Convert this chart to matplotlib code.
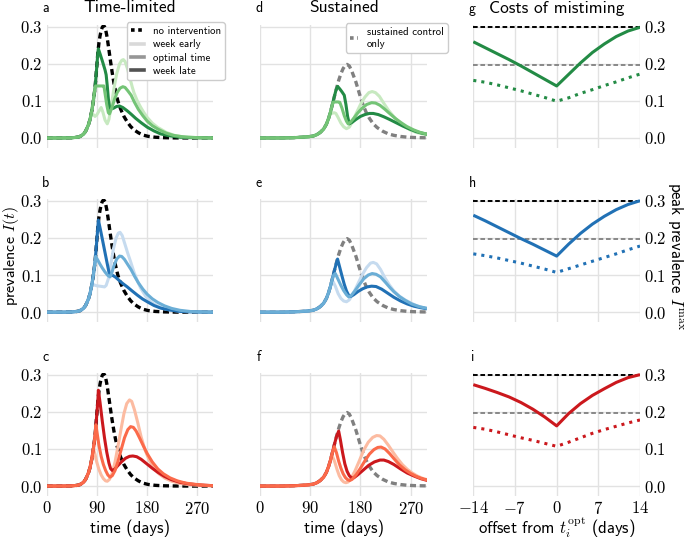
import matplotlib
matplotlib.use("Agg")
import matplotlib.pyplot as plt
from matplotlib.lines import Line2D
from matplotlib.ticker import FuncFormatter, FixedLocator

# ---------------- data (day, prevalence) ----------------
no_intervention = [(0, 0), (30, 0), (45, 0.0005), (55, 0.002), (60, 0.004), (66, 0.01), (70, 0.018),
                   (75, 0.035), (78, 0.05), (81, 0.072), (84, 0.1), (87, 0.135), (90, 0.19), (92, 0.228),
                   (94, 0.256), (96, 0.275), (98, 0.289), (100, 0.298), (102, 0.302), (104, 0.3),
                   (106, 0.292), (108, 0.277), (110, 0.258), (112, 0.237), (115, 0.205), (118, 0.175),
                   (121, 0.148), (124, 0.125), (128, 0.1), (133, 0.078), (139, 0.058), (145, 0.043),
                   (151, 0.031), (157, 0.022), (165, 0.014), (173, 0.008), (182, 0.0045), (195, 0.002),
                   (210, 0.0008), (230, 0.0002), (260, 0), (300, 0)]

sustained_only = [(0, 0), (40, 0), (60, 0.0008), (75, 0.002), (85, 0.003), (95, 0.005), (102, 0.009),
                  (108, 0.015), (114, 0.024), (119, 0.037), (123, 0.053), (126, 0.068), (129, 0.086),
                  (133, 0.11), (137, 0.133), (141, 0.155), (145, 0.173), (149, 0.187), (153, 0.196),
                  (156, 0.198), (160, 0.194), (164, 0.182), (168, 0.166), (172, 0.15), (176, 0.13),
                  (180, 0.11), (185, 0.088), (190, 0.07), (196, 0.053), (203, 0.038), (210, 0.028),
                  (220, 0.018), (230, 0.011), (240, 0.007), (252, 0.004), (265, 0.002), (280, 0.001),
                  (300, 0.0005)]

# time-limited, green (a)
a_early = [(0, 0), (30, 0), (45, 0.0005), (55, 0.002), (60, 0.004), (66, 0.01), (70, 0.018), (75, 0.035),
           (78, 0.05), (81, 0.065), (84, 0.063), (87, 0.058), (90, 0.062), (94, 0.072), (98, 0.082),
           (101, 0.07), (105, 0.048), (109, 0.038), (112, 0.05), (116, 0.085), (121, 0.133), (126, 0.173),
           (131, 0.199), (135, 0.209), (138, 0.211), (141, 0.206), (145, 0.188), (150, 0.16), (154, 0.137),
           (157, 0.122), (163, 0.1), (169, 0.083), (175, 0.068), (181, 0.055), (190, 0.04), (200, 0.028),
           (205, 0.024), (215, 0.015), (230, 0.007), (250, 0.002), (275, 0.0005), (300, 0)]
a_opt = [(0, 0), (30, 0), (45, 0.0005), (55, 0.002), (60, 0.004), (66, 0.01), (70, 0.018), (75, 0.035),
         (78, 0.05), (81, 0.072), (84, 0.1), (86, 0.125), (88, 0.14), (92, 0.14), (96, 0.14), (100, 0.14),
         (103, 0.14), (105, 0.12), (108, 0.09), (111, 0.068), (113, 0.065), (117, 0.08), (122, 0.104),
         (127, 0.123), (132, 0.134), (137, 0.138), (141, 0.136), (146, 0.127), (152, 0.115), (158, 0.096),
         (165, 0.077), (173, 0.06), (181, 0.045), (190, 0.033), (200, 0.024), (205, 0.02), (215, 0.013),
         (228, 0.007), (245, 0.003), (270, 0.001), (300, 0)]
a_late = [(0, 0), (30, 0), (45, 0.0005), (55, 0.002), (60, 0.004), (66, 0.01), (70, 0.018), (75, 0.035),
          (78, 0.05), (81, 0.072), (84, 0.1), (87, 0.135), (90, 0.19), (92, 0.228), (93, 0.24), (97, 0.222),
          (101, 0.203), (105, 0.183), (107, 0.17), (109, 0.14), (111, 0.105), (113, 0.083), (115, 0.078),
          (120, 0.08), (126, 0.085), (131, 0.086), (137, 0.082), (145, 0.073), (152, 0.064), (160, 0.053),
          (170, 0.041), (181, 0.029), (193, 0.019), (205, 0.011), (220, 0.006), (240, 0.002), (265, 0.0006),
          (300, 0)]

# time-limited, blue (b)
b_early = [(0, 0), (30, 0), (45, 0.0005), (55, 0.002), (60, 0.004), (66, 0.01), (70, 0.018), (75, 0.035),
           (78, 0.05), (81, 0.072), (83, 0.075), (86, 0.073), (90, 0.071), (95, 0.07), (100, 0.069),
           (104, 0.068), (107, 0.072), (111, 0.09), (115, 0.125), (120, 0.17), (125, 0.2), (129, 0.213),
           (132, 0.215), (136, 0.206), (141, 0.182), (146, 0.158), (151, 0.136), (157, 0.108), (163, 0.085),
           (169, 0.065), (178, 0.043), (187, 0.028), (197, 0.018), (210, 0.01), (225, 0.005), (245, 0.002),
           (270, 0.0005), (300, 0)]
b_opt = [(0, 0), (30, 0), (45, 0.0005), (55, 0.002), (60, 0.004), (66, 0.01), (70, 0.018), (75, 0.035),
         (78, 0.05), (81, 0.072), (84, 0.1), (87, 0.135), (88, 0.15), (92, 0.14), (96, 0.129), (100, 0.119),
         (105, 0.108), (110, 0.099), (114, 0.095), (117, 0.105), (121, 0.125), (126, 0.143), (131, 0.151),
         (135, 0.15), (140, 0.142), (146, 0.128), (152, 0.114), (158, 0.097), (165, 0.079), (173, 0.062),
         (181, 0.048), (190, 0.036), (200, 0.026), (212, 0.017), (225, 0.01), (240, 0.005), (260, 0.0015),
         (285, 0.0004), (300, 0)]
b_late = [(0, 0), (30, 0), (45, 0.0005), (55, 0.002), (60, 0.004), (66, 0.01), (70, 0.018), (75, 0.035),
          (78, 0.05), (81, 0.072), (84, 0.1), (87, 0.135), (90, 0.19), (92, 0.228), (93, 0.248), (97, 0.22),
          (101, 0.19), (105, 0.16), (109, 0.13), (112, 0.108), (114, 0.1), (117, 0.1), (120, 0.098),
          (124, 0.094), (130, 0.086), (137, 0.077), (145, 0.068), (153, 0.058), (163, 0.046), (172, 0.036),
          (181, 0.028), (193, 0.018), (205, 0.011), (220, 0.006), (240, 0.002), (265, 0.0006), (300, 0)]

# time-limited, red (c)
c_early = [(0, 0), (30, 0), (45, 0.0005), (55, 0.002), (60, 0.004), (66, 0.01), (70, 0.018), (75, 0.035),
           (78, 0.05), (81, 0.072), (84, 0.1), (87, 0.085), (90, 0.065), (94, 0.045), (98, 0.03), (102, 0.02),
           (106, 0.014), (109, 0.013), (113, 0.018), (118, 0.035), (123, 0.065), (128, 0.105), (134, 0.155),
           (139, 0.195), (144, 0.222), (149, 0.232), (153, 0.228), (158, 0.205), (164, 0.17), (170, 0.132),
           (177, 0.097), (185, 0.068), (193, 0.048), (202, 0.033), (213, 0.021), (225, 0.013), (240, 0.007),
           (258, 0.0035), (280, 0.0015), (300, 0.0005)]
c_opt = [(0, 0), (30, 0), (45, 0.0005), (55, 0.002), (60, 0.004), (66, 0.01), (70, 0.018), (75, 0.035),
         (78, 0.05), (81, 0.072), (84, 0.1), (87, 0.135), (88.5, 0.165), (91, 0.14), (94, 0.11), (98, 0.08),
         (102, 0.058), (106, 0.042), (110, 0.03), (114, 0.024), (118, 0.028), (123, 0.042), (128, 0.065),
         (134, 0.098), (140, 0.13), (146, 0.152), (151, 0.16), (156, 0.158), (161, 0.148), (167, 0.13),
         (174, 0.108), (181, 0.087), (190, 0.065), (200, 0.046), (210, 0.033), (222, 0.022), (235, 0.014),
         (250, 0.008), (265, 0.005), (285, 0.002), (300, 0.001)]
c_late = [(0, 0), (30, 0), (45, 0.0005), (55, 0.002), (60, 0.004), (66, 0.01), (70, 0.018), (75, 0.035),
          (78, 0.05), (81, 0.072), (84, 0.1), (87, 0.135), (90, 0.19), (92, 0.228), (93, 0.258), (96, 0.225),
          (100, 0.175), (104, 0.13), (108, 0.092), (112, 0.062), (115, 0.047), (118, 0.042), (122, 0.045),
          (128, 0.055), (135, 0.066), (142, 0.075), (149, 0.08), (155, 0.081), (162, 0.079), (170, 0.072),
          (180, 0.06), (190, 0.048), (200, 0.037), (212, 0.026), (225, 0.017), (240, 0.01), (255, 0.006),
          (275, 0.003), (300, 0.001)]

# sustained, green (d)
d_early = [(0, 0), (40, 0), (60, 0.0008), (75, 0.002), (85, 0.003), (95, 0.005), (102, 0.009), (108, 0.015),
           (114, 0.024), (119, 0.037), (123, 0.053), (125, 0.064), (128, 0.066), (133, 0.068), (136, 0.066),
           (140, 0.055), (145, 0.04), (150, 0.03), (155, 0.025), (160, 0.029), (166, 0.045), (172, 0.065),
           (180, 0.09), (188, 0.11), (195, 0.122), (201, 0.125), (207, 0.122), (214, 0.112), (222, 0.093),
           (230, 0.075), (240, 0.057), (250, 0.042), (260, 0.03), (270, 0.021), (280, 0.015), (290, 0.011),
           (300, 0.008)]
d_opt = [(0, 0), (40, 0), (60, 0.0008), (75, 0.002), (85, 0.003), (95, 0.005), (102, 0.009), (108, 0.015),
         (114, 0.024), (119, 0.037), (123, 0.053), (126, 0.068), (129, 0.086), (131, 0.096), (135, 0.097),
         (140, 0.097), (143, 0.096), (147, 0.08), (151, 0.06), (155, 0.045), (158, 0.038), (162, 0.042),
         (168, 0.053), (175, 0.067), (183, 0.08), (191, 0.09), (200, 0.095), (207, 0.094), (215, 0.088),
         (224, 0.077), (233, 0.065), (243, 0.052), (253, 0.041), (263, 0.031), (275, 0.022), (287, 0.015),
         (300, 0.01)]
d_late = [(0, 0), (40, 0), (60, 0.0008), (75, 0.002), (85, 0.003), (95, 0.005), (102, 0.009), (108, 0.015),
          (114, 0.024), (119, 0.037), (123, 0.053), (126, 0.068), (129, 0.086), (133, 0.11), (136, 0.128),
          (139, 0.139), (143, 0.132), (147, 0.124), (151, 0.115), (154, 0.09), (157, 0.058), (160, 0.038),
          (165, 0.042), (172, 0.05), (180, 0.058), (188, 0.063), (196, 0.066), (203, 0.066), (212, 0.063),
          (222, 0.057), (232, 0.05), (244, 0.041), (256, 0.032), (268, 0.024), (280, 0.017), (290, 0.013),
          (300, 0.01)]

# sustained, blue (e)
e_early = [(0, 0), (40, 0), (60, 0.0008), (75, 0.002), (85, 0.003), (95, 0.005), (102, 0.009), (108, 0.015),
           (114, 0.024), (119, 0.037), (123, 0.053), (126, 0.068), (129, 0.08), (131, 0.082), (135, 0.07),
           (140, 0.05), (145, 0.037), (150, 0.03), (155, 0.028), (160, 0.033), (167, 0.05), (175, 0.075),
           (183, 0.1), (191, 0.12), (198, 0.132), (203, 0.134), (209, 0.13), (216, 0.115), (224, 0.092),
           (232, 0.073), (240, 0.057), (250, 0.043), (260, 0.033), (270, 0.025), (280, 0.018), (290, 0.013),
           (300, 0.01)]
e_opt = [(0, 0), (40, 0), (60, 0.0008), (75, 0.002), (85, 0.003), (95, 0.005), (102, 0.009), (108, 0.015),
         (114, 0.024), (119, 0.037), (123, 0.053), (126, 0.068), (129, 0.086), (132, 0.1), (135, 0.104),
         (140, 0.088), (145, 0.072), (150, 0.058), (155, 0.047), (159, 0.041), (163, 0.044), (170, 0.057),
         (178, 0.074), (186, 0.09), (194, 0.1), (201, 0.104), (208, 0.102), (216, 0.095), (225, 0.08),
         (233, 0.066), (240, 0.055), (250, 0.042), (260, 0.032), (272, 0.022), (285, 0.015), (300, 0.01)]
e_late = [(0, 0), (40, 0), (60, 0.0008), (75, 0.002), (85, 0.003), (95, 0.005), (102, 0.009), (108, 0.015),
          (114, 0.024), (119, 0.037), (123, 0.053), (126, 0.068), (129, 0.086), (133, 0.11), (137, 0.133),
          (139, 0.143), (143, 0.12), (147, 0.097), (151, 0.075), (155, 0.057), (159, 0.045), (162, 0.042),
          (168, 0.047), (176, 0.056), (184, 0.063), (192, 0.068), (200, 0.07), (208, 0.069), (218, 0.062),
          (228, 0.052), (240, 0.04), (252, 0.03), (264, 0.022), (276, 0.016), (288, 0.012), (300, 0.009)]

# sustained, red (f)
f_early = [(0, 0), (40, 0), (60, 0.0008), (75, 0.002), (85, 0.003), (95, 0.005), (102, 0.009), (108, 0.015),
           (114, 0.024), (119, 0.037), (123, 0.053), (126, 0.068), (128, 0.076), (130, 0.08), (134, 0.065),
           (138, 0.045), (142, 0.028), (146, 0.017), (150, 0.011), (154, 0.009), (158, 0.011), (163, 0.02),
           (170, 0.04), (178, 0.068), (186, 0.097), (194, 0.118), (202, 0.131), (209, 0.136), (215, 0.135),
           (222, 0.126), (230, 0.11), (238, 0.092), (246, 0.075), (255, 0.058), (264, 0.045), (273, 0.035),
           (282, 0.027), (291, 0.021), (300, 0.017)]
f_opt = [(0, 0), (40, 0), (60, 0.0008), (75, 0.002), (85, 0.003), (95, 0.005), (102, 0.009), (108, 0.015),
         (114, 0.024), (119, 0.037), (123, 0.053), (126, 0.068), (129, 0.086), (133, 0.106), (137, 0.09),
         (141, 0.067), (145, 0.048), (149, 0.033), (153, 0.023), (157, 0.017), (161, 0.015), (165, 0.018),
         (172, 0.03), (180, 0.048), (188, 0.068), (196, 0.086), (204, 0.098), (211, 0.104), (217, 0.105),
         (224, 0.1), (232, 0.088), (240, 0.074), (250, 0.057), (260, 0.044), (270, 0.034), (280, 0.026),
         (290, 0.02), (300, 0.016)]
f_late = [(0, 0), (40, 0), (60, 0.0008), (75, 0.002), (85, 0.003), (95, 0.005), (102, 0.009), (108, 0.015),
          (114, 0.024), (119, 0.037), (123, 0.053), (126, 0.068), (129, 0.086), (133, 0.11), (137, 0.133),
          (141, 0.148), (144, 0.125), (148, 0.09), (152, 0.06), (156, 0.04), (160, 0.028), (164, 0.022),
          (168, 0.022), (175, 0.03), (185, 0.043), (195, 0.056), (205, 0.065), (215, 0.07), (222, 0.07),
          (230, 0.066), (240, 0.058), (252, 0.046), (264, 0.035), (276, 0.027), (288, 0.02), (300, 0.015)]

# costs of mistiming (g, h, i)
offsets = [-14, -12, -10, -8, -6, -4, -2, 0, 2, 4, 6, 8, 10, 12, 14]
peak_no_intervention = 0.30
peak_sustained_only = 0.197
g_limited = [0.259, 0.243, 0.227, 0.211, 0.194, 0.176, 0.158, 0.14, 0.171, 0.202, 0.23, 0.253, 0.273, 0.288, 0.298]
g_sustained = [0.155, 0.15, 0.143, 0.135, 0.127, 0.118, 0.109, 0.099, 0.108, 0.12, 0.13, 0.141, 0.151, 0.162, 0.172]
h_limited = [0.261, 0.246, 0.23, 0.214, 0.198, 0.183, 0.167, 0.151, 0.183, 0.212, 0.237, 0.258, 0.276, 0.29, 0.3]
h_sustained = [0.157, 0.152, 0.146, 0.139, 0.132, 0.124, 0.116, 0.107, 0.117, 0.127, 0.137, 0.147, 0.157, 0.168, 0.178]
i_limited = [0.273, 0.263, 0.252, 0.24, 0.225, 0.207, 0.186, 0.162, 0.195, 0.222, 0.244, 0.262, 0.279, 0.292, 0.3]
i_sustained = [0.158, 0.153, 0.146, 0.138, 0.13, 0.123, 0.115, 0.107, 0.118, 0.13, 0.142, 0.152, 0.161, 0.17, 0.178]

time_ticks = [0, 90, 180, 270]
offset_ticks = [-14, -7, 0, 7, 14]
prev_ticks = [0.0, 0.1, 0.2, 0.3]
legend_labels = ["no intervention", "week early", "optimal time", "week late"]

# ---------------- style ----------------
plt.rcParams["font.family"] = ["cmss10", "DejaVu Sans"]
plt.rcParams["mathtext.fontset"] = "cm"
plt.rcParams["axes.unicode_minus"] = True

greens = ["#c7e9c0", "#74c476", "#238b45"]
blues = ["#c6dbef", "#6baed6", "#2171b5"]
reds = ["#fcbba1", "#fb6a4a", "#cb181d"]
grid_col = "#e2e2e2"
LW = 2.2
DASH = (1.8, 1.1)

W, H = 685, 542
fig = plt.figure(figsize=(6.85, 5.42), dpi=100)

col_left = [46.7, 260.0, 473.3]
col_w = [166.7, 167.4, 166.7]
row_top = [24.5, 198.7, 372.6]
row_h = 123.6
YLIM = (-0.0273, 0.3055)


def unz(pairs):
    return [p[0] for p in pairs], [p[1] for p in pairs]


def make_ax(r, c):
    ax = fig.add_axes([col_left[c] / W, 1 - (row_top[r] + row_h) / H, col_w[c] / W, row_h / H])
    for sp in ax.spines.values():
        sp.set_visible(False)
    ax.grid(True, color=grid_col, lw=1.0)
    ax.set_axisbelow(True)
    ax.tick_params(length=0, labelsize=12, pad=3)
    ax.set_ylim(*YLIM)
    ax.yaxis.set_major_locator(FixedLocator(prev_ticks))
    ax.yaxis.set_major_formatter(FuncFormatter(lambda v, p: "$%.1f$" % v))
    if c < 2:
        ax.set_xlim(0, 300)
        ax.xaxis.set_major_locator(FixedLocator(time_ticks))
    else:
        ax.set_xlim(-14, 14)
        ax.xaxis.set_major_locator(FixedLocator(offset_ticks))
    ax.xaxis.set_major_formatter(FuncFormatter(lambda v, p: "$%d$" % v))
    if r < 2:
        ax.tick_params(labelbottom=False)
    if c == 1:
        ax.tick_params(labelleft=False)
    if c == 2:
        ax.yaxis.tick_right()
        ax.tick_params(labelleft=False, labelright=True, length=0)
    return ax


limited = [(a_early, a_opt, a_late), (b_early, b_opt, b_late), (c_early, c_opt, c_late)]
sustained = [(d_early, d_opt, d_late), (e_early, e_opt, e_late), (f_early, f_opt, f_late)]
costs = [(g_limited, g_sustained), (h_limited, h_sustained), (i_limited, i_sustained)]
palettes = [greens, blues, reds]
letters = ["abc", "def", "ghi"]
draw_order = [0, 2, 1]  # early, late, then optimal on top

for r in range(3):
    pal = palettes[r]
    # time-limited
    ax = make_ax(r, 0)
    x, y = unz(no_intervention)
    ax.plot(x, y, color="black", lw=2.4, dashes=DASH, dash_capstyle="butt", zorder=2)
    for k in draw_order:
        x, y = unz(limited[r][k])
        ax.plot(x, y, color=pal[k], lw=LW, solid_joinstyle="round", zorder=3)
    # sustained
    ax = make_ax(r, 1)
    x, y = unz(sustained_only)
    ax.plot(x, y, color="#808080", lw=2.4, dashes=DASH, dash_capstyle="butt", zorder=2)
    for k in draw_order:
        x, y = unz(sustained[r][k])
        ax.plot(x, y, color=pal[k], lw=LW, solid_joinstyle="round", zorder=3)
    # costs
    ax = make_ax(r, 2)
    ax.axhline(peak_no_intervention, color="black", lw=1.4, dashes=(2.4, 1.4))
    ax.axhline(peak_sustained_only, color="#888888", lw=1.4, dashes=(2.4, 1.4))
    lim, sus = costs[r]
    ax.plot(offsets, lim, color=pal[2], lw=LW, solid_capstyle="butt")
    ax.plot(offsets, sus, color=pal[2], lw=LW, linestyle=":")

    for c in range(3):
        fig.text((col_left[c] - 1) / W, 1 - (row_top[r] - 16) / H, letters[c][r],
                 fontsize=10, ha="center", va="center")

# titles
titles = ["Time-limited", "Sustained", "Costs of mistiming"]
for c in range(3):
    fig.text((col_left[c] + col_w[c] / 2) / W, 1 - 8 / H, titles[c], fontsize=12.5, ha="center", va="center")

# axis labels
fig.text(11.5 / W, 1 - 256 / H, r"prevalence $I(t)$", fontsize=11.5, rotation=90, ha="center", va="center")
fig.text(675 / W, 1 - 256 / H, r"peak prevalence $I^{\mathrm{max}}$", fontsize=12, rotation=270,
         ha="center", va="center")
for c in range(2):
    fig.text((col_left[c] + col_w[c] / 2) / W, 1 - 528 / H, "time (days)", fontsize=12, ha="center", va="center")
fig.text((col_left[2] + col_w[2] / 2) / W, 1 - 528 / H, r"offset from $t_i^{\mathrm{opt}}$ (days)",
         fontsize=12, ha="center", va="center")

# legends
h1 = [Line2D([], [], color="black", lw=2.6, dashes=(1.0, 1.0)),
      Line2D([], [], color="#d9d9d9", lw=2.6),
      Line2D([], [], color="#969696", lw=2.6),
      Line2D([], [], color="#525252", lw=2.6)]
fig.legend(h1, legend_labels, loc="upper right", bbox_to_anchor=(230 / W, 1 - 17 / H),
           bbox_transform=fig.transFigure, fontsize=7.8, handlelength=1.2, handletextpad=0.8,
           labelspacing=0.3, borderpad=0.35, framealpha=1, edgecolor="#cccccc", fancybox=True)
h2 = [Line2D([], [], color="#808080", lw=2.6, dashes=(1.0, 1.0))]
fig.legend(h2, ["sustained control\nonly"], loc="upper right", bbox_to_anchor=(453 / W, 1 - 18 / H),
           bbox_transform=fig.transFigure, fontsize=7.8, handlelength=0.8, handletextpad=0.8,
           labelspacing=0.2, borderpad=0.35, framealpha=1, edgecolor="#cccccc", fancybox=True)

fig.savefig("out.png", dpi=100)
